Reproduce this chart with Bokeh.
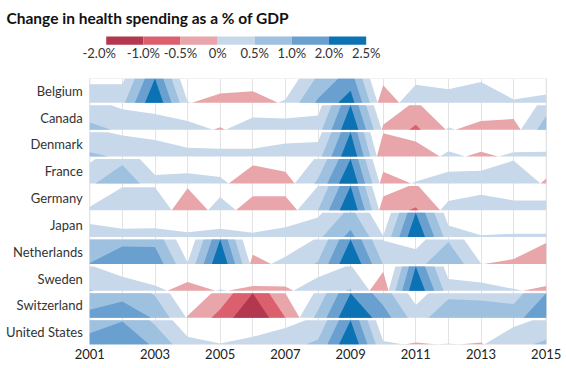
import numpy as np
from bokeh.plotting import figure
from bokeh.layouts import column
from bokeh.models import FixedTicker, Range1d
from bokeh.core.properties import value
from bokeh.embed import file_html
from bokeh.resources import INLINE

# ---------------- data ----------------
YEARS = list(range(2001, 2016))
X_TICKS = [2001, 2003, 2005, 2007, 2009, 2011, 2013, 2015]
COUNTRIES = ["Belgium", "Canada", "Denmark", "France", "Germany", "Japan",
             "Netherlands", "Sweden", "Switzerland", "United States"]

BELGIUM = [0.38, 0.38, 2.0, 0.03, -0.19, -0.24, 0.07, 1.09, 1.75, -0.36, 0.37, 0.28, 0.43, 0.07, 0.17]
CANADA = [0.65, 0.42, 0.32, 0.18, -0.05, 0.25, 0.23, 0.29, 2.0, -0.1, -0.6, 0.05, -0.18, -0.22, 0.78]
DENMARK = [0.59, 0.43, 0.34, 0.18, 0.16, 0.16, 0.27, 0.3, 2.0, -0.48, -0.31, 0.11, -0.1, 0.09, 0.1]
FRANCE = [0.42, 0.88, 0.17, 0.21, 0.13, -0.37, -0.24, 0.6, 2.0, -0.24, 0.04, 0.24, 0.26, 0.47, -0.1]
GERMANY = [0.07, 0.47, 0.47, -0.45, 0.27, -0.29, -0.29, 0.5, 2.0, -0.28, -0.56, 0.19, 0.32, 0.2, 0.2]
JAPAN = [0.27, 0.17, 0.18, 0.1, 0.17, 0.09, 0.2, 0.4, 1.15, 0.03, 2.0, 0.24, 0.04, 0.07, 0.07]
NETHERLANDS = [1.02, 1.36, 1.35, 0.03, 2.0, -0.19, 0.15, 0.55, 2.0, 0.48, 0.3, 0.95, 0.01, -0.1, -0.43]
SWEDEN = [0.53, 0.29, 0.11, -0.18, 0.03, -0.1, -0.09, 0.28, 0.54, -0.39, 2.0, 0.24, 0.17, 0.04, -0.1]
SWITZERLAND = [1.16, 1.33, 0.95, -0.04, -0.67, -1.5, -0.5, 0.65, 2.0, 1.25, 0.26, 0.88, 0.85, 0.78, 1.5]
UNITED_STATES = [1.23, 1.47, 0.9, 0.16, 0.02, 0.16, 0.34, 0.6, 2.0, 0.07, -0.04, 0.02, -0.04, 0.36, 0.6]

SERIES = [BELGIUM, CANADA, DENMARK, FRANCE, GERMANY, JAPAN,
          NETHERLANDS, SWEDEN, SWITZERLAND, UNITED_STATES]

BAND_SIZE = 0.5
POS_COLORS = ["#c7d8ea", "#9ec1e0", "#6aa0d0", "#0b72b4"]
NEG_COLORS = ["#e8a6ab", "#dc5f6e", "#b3384f"]

LEGEND_LABELS = ["-2.0%", "-1.0%", "-0.5%", "0%", "0.5%", "1.0%", "2.0%", "2.5%"]
LEGEND_COLORS = ["#b3384f", "#dc5f6e", "#e8a6ab", "#c7d8ea", "#9ec1e0", "#6aa0d0", "#0b72b4"]

TITLE = "Change in health spending as a % of GDP"
FONT = "Lato"

# ---------------- helpers ----------------
def with_crossings(xs, us, levels):
    """Insert exact points where the piecewise-linear series crosses band levels."""
    rx, ru = [xs[0]], [us[0]]
    for j in range(len(xs) - 1):
        x0, x1, u0, u1 = xs[j], xs[j + 1], us[j], us[j + 1]
        if u1 != u0:
            lo, hi = min(u0, u1), max(u0, u1)
            ts = sorted((L - u0) / (u1 - u0) for L in levels if lo < L < hi)
            for t in ts:
                rx.append(x0 + t * (x1 - x0))
                ru.append(u0 + t * (u1 - u0))
        rx.append(x1)
        ru.append(u1)
    return np.array(rx), np.array(ru)

# ---------------- layout constants (pixels) ----------------
W = 566
PX_FIRST, PX_LAST = 89.3, 545.7          # frame x of first / last year
YPP = (YEARS[-1] - YEARS[0]) / (PX_LAST - PX_FIRST)   # years per pixel
ROW_H = 0.907                             # fraction of row pitch covered by a row band
n = len(COUNTRIES)

# ---------------- main chart ----------------
p = figure(width=W, height=298, output_backend="svg", toolbar_location=None,
           x_range=Range1d(YEARS[0] - PX_FIRST * YPP, YEARS[-1] + (W - PX_LAST) * YPP),
           y_range=Range1d(-ROW_H / 2, (n - 1) + ROW_H / 2),
           min_border_left=0, min_border_right=0, min_border_top=8, min_border_bottom=24,
           y_axis_location=None)
p.outline_line_color = None

# light frame around the plotting area (under the areas)
p.quad(left=[YEARS[0]], right=[YEARS[-1]], bottom=[-ROW_H / 2], top=[(n - 1) + ROW_H / 2],
       fill_color=None, line_color="#e3e3e3", line_width=1)

levels = list(range(-len(NEG_COLORS), len(POS_COLORS) + 1))
centers = [(n - 1) - i for i in range(n)]
for name, vals, center in zip(COUNTRIES, SERIES, centers):
    base = center - ROW_H / 2
    u = np.array(vals, dtype=float) / BAND_SIZE
    rx, ru = with_crossings(YEARS, list(u), levels)
    for k, col in enumerate(POS_COLORS):
        h = np.clip(ru - k, 0, 1)
        p.varea(x=rx, y1=np.full_like(rx, base), y2=base + ROW_H * h, fill_color=col)
    for k, col in enumerate(NEG_COLORS):
        h = np.clip(-ru - k, 0, 1)
        p.varea(x=rx, y1=np.full_like(rx, base), y2=base + ROW_H * h, fill_color=col)

# country labels
p.text(x=YEARS[0] - 7 * YPP, y=centers, text=COUNTRIES, text_font=value(FONT),
       text_font_size="13px", text_color="#333333", text_align="right",
       text_baseline="middle")

p.xgrid.ticker = FixedTicker(ticks=YEARS)
p.xgrid.grid_line_color = "#e3e3e3"
p.ygrid.visible = False

p.xaxis.ticker = FixedTicker(ticks=X_TICKS)
p.xaxis.axis_line_color = None
p.xaxis.major_tick_line_color = None
p.xaxis.minor_tick_line_color = None
p.xaxis.major_tick_out = 0
p.xaxis.major_tick_in = 0
p.xaxis.major_label_standoff = 4
p.xaxis.major_label_text_font = FONT
p.xaxis.major_label_text_font_size = "13px"
p.xaxis.major_label_text_color = "#222222"

# ---------------- header (title + legend) ----------------
HH = 70
hdr = figure(width=W, height=HH, output_backend="svg", toolbar_location=None,
             x_range=Range1d(0, W), y_range=Range1d(0, HH), min_border=0,
             min_border_left=0, min_border_right=0, min_border_top=0, min_border_bottom=0,
             x_axis_location=None, y_axis_location=None)
hdr.grid.visible = False
hdr.outline_line_color = None

hdr.text(x=[6], y=[HH - 17], text=[TITLE], text_font=value(FONT), text_font_style="bold",
         text_font_size="15.5px", text_color="#111111", text_baseline="alphabetic", text_align="left")

LEG_X0, LEG_W = 105.7, 37.14
nc = len(LEGEND_COLORS)
lefts = LEG_X0 + LEG_W * np.arange(nc)
hdr.quad(left=lefts, right=lefts + LEG_W, bottom=HH - 44.3, top=HH - 36,
         fill_color=LEGEND_COLORS, line_color=None)
lab_x = LEG_X0 + LEG_W * np.arange(len(LEGEND_LABELS))
lab_x[0] -= 7
hdr.text(x=lab_x, y=HH - 52.5, text=LEGEND_LABELS, text_font=value(FONT), text_font_size="13px",
         text_color="#333333", text_align="center", text_baseline="middle")

layout = column(hdr, p)
open("out.html", "w").write(file_html(layout, INLINE))
